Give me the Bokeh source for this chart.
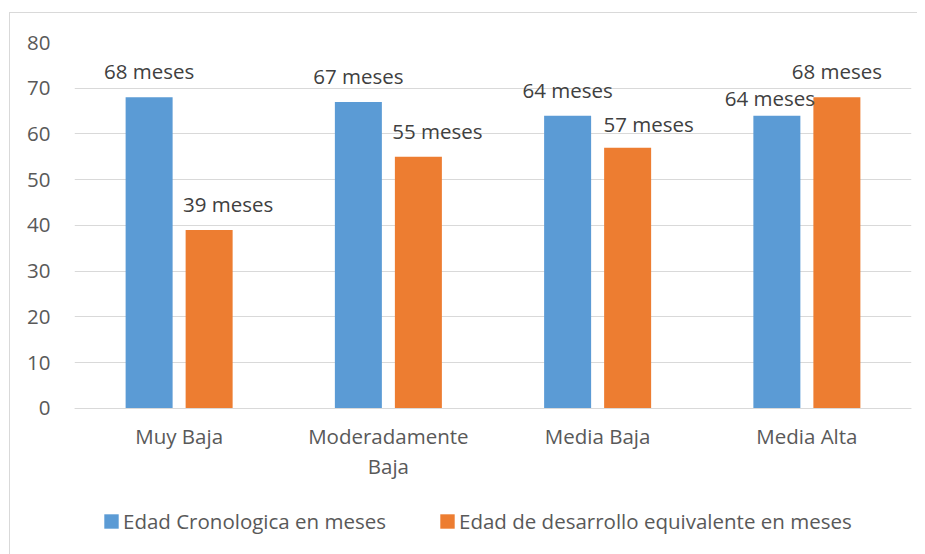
from bokeh.plotting import figure
from bokeh.models import (ColumnDataSource, FactorRange, Range1d, FixedTicker,
                          LabelSet, Legend, LegendItem)
from bokeh.transform import dodge
from bokeh.core.properties import value
from bokeh.embed import file_html
from bokeh.resources import INLINE

# ---- data ----
categories = ["Muy Baja", "Moderadamente\nBaja", "Media Baja", "Media Alta"]
series_names = ["Edad Cronologica en meses",
                "Edad de desarrollo equivalente en meses"]
cronologica = [68, 67, 64, 64]
desarrollo = [39, 55, 57, 68]
y_ticks = [0, 10, 20, 30, 40, 50, 60, 70, 80]

# label nudges (screen px) to mimic the reference placement
crono_label_dx = [0, 0, 0, -7]
crono_label_dy = [26, 26, 26, 18]
desa_label_dx = [19, 19, 21, 0]
desa_label_dy = [26, 26, 24, 26]

FONT = "Open Sans"
FS = "20.5px"
AXIS_COLOR = "#595959"
LABEL_COLOR = "#404040"
GRID = "#d9d9d9"
BLUE = "#5b9bd5"
ORANGE = "#ed7d31"

src = ColumnDataSource(dict(
    cat=categories,
    crono=cronologica,
    desa=desarrollo,
    crono_txt=[f"{v} meses" for v in cronologica],
    desa_txt=[f"{v} meses" for v in desarrollo],
    c_dx=crono_label_dx, c_dy=crono_label_dy,
    d_dx=desa_label_dx, d_dy=desa_label_dy,
))

# the frame is extended below zero so the legend can sit inside it
p = figure(
    x_range=FactorRange(*categories, range_padding=0, factor_padding=0),
    y_range=Range1d(-32, 80),
    frame_width=837, frame_height=512,
    output_backend="svg", toolbar_location=None,
    min_border_left=64, min_border_right=6,
    min_border_top=29, min_border_bottom=0,
    styles={"margin-left": "9px", "margin-top": "12px",
            "border-left": "1px solid #d9d9d9",
            "border-top": "1px solid #d9d9d9"},
)
p.outline_line_color = None
p.background_fill_color = "white"
p.border_fill_color = "white"

BW = 0.2246
OFF = 0.1434
r1 = p.vbar(x=dodge("cat", -OFF, range=p.x_range), top="crono", width=BW,
            source=src, fill_color=BLUE, line_color=None)
r2 = p.vbar(x=dodge("cat", OFF, range=p.x_range), top="desa", width=BW,
            source=src, fill_color=ORANGE, line_color=None)

for xoff, top, txt, dx, dy in [(-OFF, "crono", "crono_txt", "c_dx", "c_dy"),
                               (OFF, "desa", "desa_txt", "d_dx", "d_dy")]:
    ls = LabelSet(x=dodge("cat", xoff, range=p.x_range), y=top, text=txt,
                  x_offset=dx, y_offset=dy, source=src,
                  text_align="center", text_baseline="middle",
                  text_font=value(FONT), text_font_size=FS,
                  text_color=LABEL_COLOR)
    p.add_layout(ls)

# axes
p.xgrid.visible = False
p.ygrid.ticker = FixedTicker(ticks=y_ticks)
p.ygrid.grid_line_color = GRID
p.ygrid.grid_line_width = 1

p.yaxis.ticker = FixedTicker(ticks=y_ticks)
p.yaxis.axis_line_color = None
p.yaxis.major_tick_line_color = None
p.yaxis.minor_tick_line_color = None
p.yaxis.major_label_standoff = 18
p.yaxis.major_label_text_font = FONT
p.yaxis.major_label_text_font_size = FS
p.yaxis.major_label_text_color = AXIS_COLOR

p.xaxis.fixed_location = 0
p.xaxis.axis_line_color = GRID
p.xaxis.axis_line_width = 1
p.xaxis.major_tick_line_color = None
p.xaxis.minor_tick_line_color = None
p.xaxis.major_label_standoff = 8
p.xaxis.major_label_text_font = FONT
p.xaxis.major_label_text_font_size = FS
p.xaxis.major_label_text_color = AXIS_COLOR
p.xaxis.major_label_text_line_height = 1.07

legend = Legend(
    items=[LegendItem(label=series_names[0], renderers=[r1]),
           LegendItem(label=series_names[1], renderers=[r2])],
    orientation="horizontal", location=(28, 19),
    glyph_width=18, glyph_height=18, label_standoff=3, spacing=52,
    padding=0, margin=0, border_line_color=None,
    background_fill_alpha=0,
    label_text_font=FONT, label_text_font_size=FS,
    label_text_color=AXIS_COLOR,
)
p.add_layout(legend)

open("out.html", "w").write(file_html(p, INLINE))
